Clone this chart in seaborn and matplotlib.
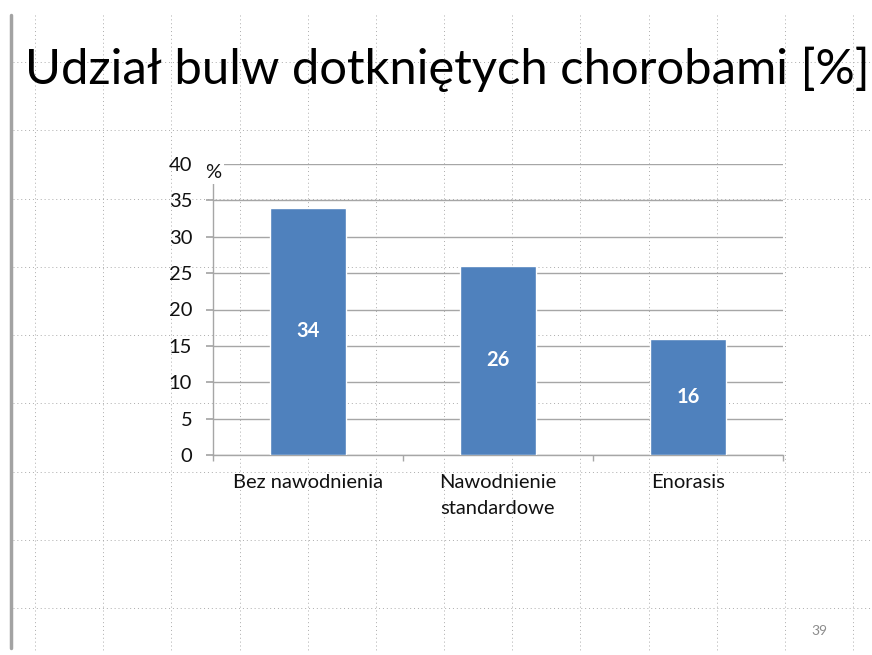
import matplotlib
matplotlib.use("Agg")
import matplotlib.pyplot as plt
from matplotlib.lines import Line2D
import seaborn as sns
import numpy as np

categories = ["Bez nawodnienia", "Nawodnienie\nstandardowe", "Enorasis"]
values = [34, 26, 16]
y_ticks = [0, 5, 10, 15, 20, 25, 30, 35, 40]
title = "Udział bulw dotkniętych chorobami [%]"
unit_label = "%"
page_number = "39"

sns.set_theme(style="white")
plt.rcParams["font.family"] = ["Lato", "DejaVu Sans"]

W, H = 872, 655
fig = plt.figure(figsize=(W / 100, H / 100), dpi=100)
fig.patch.set_facecolor("white")

# slide background: dotted guide grid
grid_col = "#ababab"
for gx in np.linspace(35, 853, 13):
    fig.add_artist(Line2D([gx / W, gx / W], [1 - 15 / H, 1 - 650 / H], color=grid_col,
                          lw=0.7, linestyle=(0, (1, 3)), zorder=0))
for gy in np.linspace(62, 608, 9):
    fig.add_artist(Line2D([13 / W, 1], [1 - gy / H, 1 - gy / H], color=grid_col,
                          lw=0.7, linestyle=(0, (1, 3)), zorder=0))
# left accent bar
fig.add_artist(Line2D([11 / W, 11 / W], [1 - 15 / H, 1 - 648 / H], color="#a3a3a3", lw=2.5, zorder=1))

ax = fig.add_axes([213 / W, 1 - 455 / H, (783 - 213) / W, (455 - 164) / H])
ax.patch.set_alpha(0)

sns.barplot(x=categories, y=values, color="#4F81BD", saturation=1, width=0.4, ax=ax, zorder=3)

ax.set_xlim(-0.5, 2.5)
ax.set_ylim(0, 40)
ax.set_yticks(y_ticks)
ax.yaxis.grid(True, color="#a6a6a6", lw=1)
ax.set_axisbelow(True)
for s in ["top", "right"]:
    ax.spines[s].set_visible(False)
for s in ["left", "bottom"]:
    ax.spines[s].set_color("#a6a6a6")
    ax.spines[s].set_linewidth(1)

ax.tick_params(axis="y", which="major", length=5, color="#a6a6a6", pad=10, labelsize=14.5, labelcolor="#111111", left=True)
ax.set_xticks([-0.5, 0.5, 1.5, 2.5], minor=True)
ax.tick_params(axis="x", which="minor", length=4, color="#a6a6a6", direction="out", bottom=True)
ax.tick_params(axis="x", which="major", length=0, pad=14, labelsize=14.5, labelcolor="#111111")
for lbl in ax.get_xticklabels():
    lbl.set_linespacing(1.6)
    lbl.set_verticalalignment("top")
ax.set_xlabel("")
ax.set_ylabel("")

for i, v in enumerate(values):
    ax.text(i, v / 2, str(v), ha="center", va="center", color="white",
            fontsize=14.5, fontweight="bold", zorder=5)

ax.text(-0.5, 40, unit_label, transform=ax.transData, ha="center", va="top",
        fontsize=14.5, color="#111111", zorder=6,
        bbox=dict(facecolor="white", edgecolor="none", pad=2))

fig.text(25 / W, 1 - 84 / H, title, fontsize=35.3, color="black", ha="left", va="baseline")
fig.text(819 / W, 1 - 631 / H, page_number, fontsize=10, color="#8c8c8c", ha="center", va="center")

fig.savefig("out.png", dpi=100)
